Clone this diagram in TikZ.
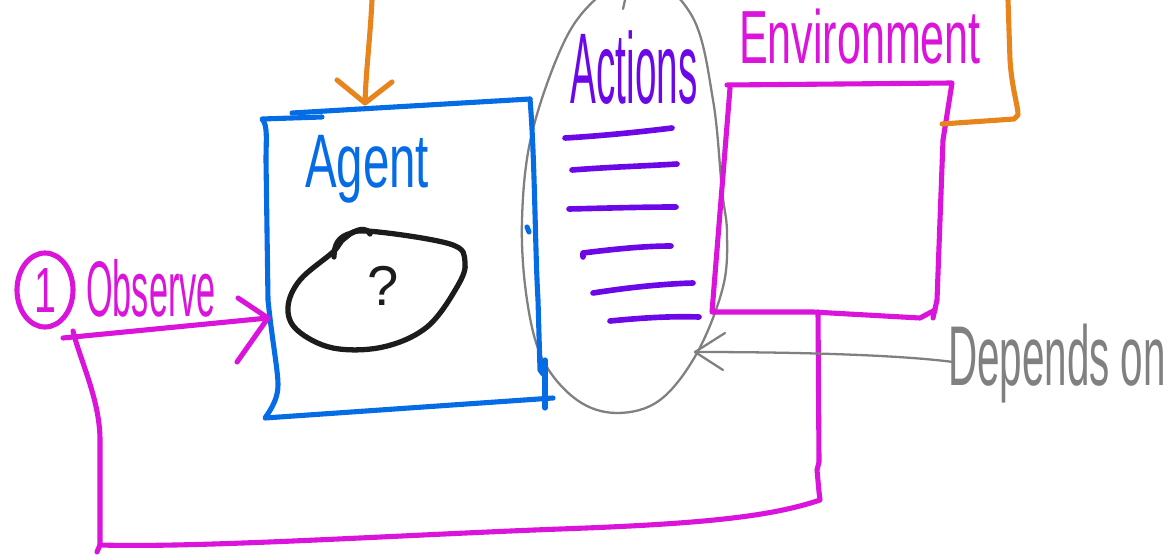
\documentclass[tikz,border=0pt]{standalone}
\usepackage{fontspec}
\setmainfont{Liberation Sans}
\usetikzlibrary{shapes.geometric}
\definecolor{cblue}{RGB}{5,108,230}
\definecolor{cmag}{RGB}{218,20,218}
\definecolor{corange}{RGB}{232,132,28}
\definecolor{cpurple}{RGB}{108,8,232}
\definecolor{cgray}{RGB}{128,128,128}
\definecolor{cblack}{RGB}{28,28,28}
\begin{document}
\begin{tikzpicture}[x=0.02cm,y=-0.02cm,line cap=round,line join=round,
  bluepen/.style={draw=cblue,line width=2.9pt},
  magpen/.style={draw=cmag,line width=2.9pt},
  orpen/.style={draw=corange,line width=2.9pt},
  purpen/.style={draw=cpurple,line width=3.2pt},
  graypen/.style={draw=cgray,line width=1.3pt},
  blackpen/.style={draw=cblack,line width=3pt},
  hand/.style={inner sep=0pt,anchor=base}]
\useasboundingbox (0,0) rectangle (1172,557);

% ---------- named points ----------
\coordinate (agentW) at (268,318);
\coordinate (agentN) at (365,103);
\coordinate (obsS) at (63,338);
\coordinate (loopTop) at (73,331);
\coordinate (envB) at (818,312);
\coordinate (envE) at (942,124);
\coordinate (orTop) at (1008,0);
\coordinate (orTopL) at (372,0);
\coordinate (actE) at (695,352);

% ---------- Actions ellipse (gray) ----------
\draw[graypen] plot[smooth cycle,tension=0.6] coordinates {(640,-30) (692,16) (713,100) (722,190) (727,233) (723,287) (697,353) (660,400) (617,413) (577,400) (543,360) (527,300) (522,220) (532,133) (565,40) (600,-5)};
\draw[graypen] (625,0) -- (623,9);

% ---------- Agent box (blue) ----------
\draw[bluepen] (292,113) -- (530,99);
\draw[bluepen] (322,117) -- (262,119) .. controls (268,125) and (266,140) .. (266,160) -- (268,300) .. controls (272,340) and (278,370) .. (278,385) .. controls (278,398) and (272,408) .. (265,418) -- (553,398);
\draw[bluepen] (530,99) .. controls (535,160) and (535,250) .. (538,300) -- (540,370) -- (543,374);
\draw[bluepen] (545,360) -- (545,408);
\draw[bluepen] (527,227) -- (529,232);
\node[hand,text=cblue] (agent) at (367,188) {\scalebox{1}[1.6]{\fontsize{27}{27}\selectfont Agent}};

% ---------- black blob ----------
\draw[blackpen] plot[smooth cycle,tension=0.6] coordinates {(367,231) (450,244) (465,262) (457,287) (427,327) (383,347) (333,348) (297,330) (288,307) (300,280) (333,252) (345,238)};
\draw[blackpen] (334,257) .. controls (334,245) and (338,236) .. (352,233) .. controls (360,228) and (368,228) .. (370,234);
\node[hand,text=cblack] (q) at (383,305) {\fontsize{32}{32}\selectfont ?};

% ---------- Actions text and list ----------
\node[hand,text=cpurple] (actions) at (634,104) {\scalebox{1}[2.6]{\fontsize{22}{22}\selectfont Actions}};
\draw[purpen] (565,138) .. controls (600,136) and (640,132) .. (672,128);
\draw[purpen] (572,170) .. controls (610,167) and (645,166) .. (677,164);
\draw[purpen] (569,209) .. controls (610,208) and (645,207) .. (676,207);
\draw[purpen] (583,257) -- (583,253) .. controls (615,249) and (645,246) .. (671,246);
\draw[purpen] (593,293) .. controls (625,288) and (660,284) .. (693,283);
\draw[purpen] (610,321) .. controls (640,318) and (670,316) .. (699,317);

% ---------- Environment box (magenta) ----------
\node[hand,text=cmag] (env) at (860,64) {\scalebox{1}[1.75]{\fontsize{24.5}{24.5}\selectfont Environment}};
\draw[magpen] (727,85) -- (952,83) -- (943,140) -- (937,300) -- (933,318);
\draw[magpen] (730,88) -- (712,312) -- (813,312) -- (920,318) -- (935,310);

% ---------- loop from environment back to observe ----------
\draw[magpen] (envB) -- (819,462) -- (817,470) -- (819,492) -- (820,500)
  .. controls (770,517) and (700,524) .. (560,529)
  .. controls (400,535) and (200,548) .. (100,545) -- (97,552);
\draw[magpen] (loopTop) .. controls (80,360) and (100,400) .. (100,440) -- (100,545);

% ---------- Observe ----------
\node[ellipse,draw=cmag,line width=2.9pt,minimum width=56*0.02cm,minimum height=74*0.02cm,inner sep=0pt,text=cmag] (one) at (45,290) {\scalebox{0.8}[1.3]{\fontsize{28}{28}\selectfont 1}};
\node[hand,text=cmag] (observe) at (151,316) {\scalebox{1}[2.3]{\fontsize{19.5}{19.5}\selectfont Observe}};
\draw[magpen] (obsS) -- (agentW);
\draw[magpen] (238,298) -- (agentW) -- (237,362);

% ---------- orange feedback ----------
\draw[orpen] (orTopL) .. controls (370,40) and (366,70) .. (agentN);
\draw[orpen] (337,80) -- (agentN) -- (392,82);
\draw[orpen] (orTop) -- (1010,60) .. controls (1012,90) and (1018,105) .. (1018,115) -- (1014,119) -- (envE);

% ---------- Depends on ----------
\node[hand,text=cgray] (dep) at (1057,385) {\scalebox{1}[2.1]{\fontsize{23}{23}\selectfont Depends on}};
\draw[graypen] (953,362) .. controls (900,355) and (800,352) .. (actE);
\draw[graypen] (725,333) -- (actE) -- (723,370);
\end{tikzpicture}
\end{document}
